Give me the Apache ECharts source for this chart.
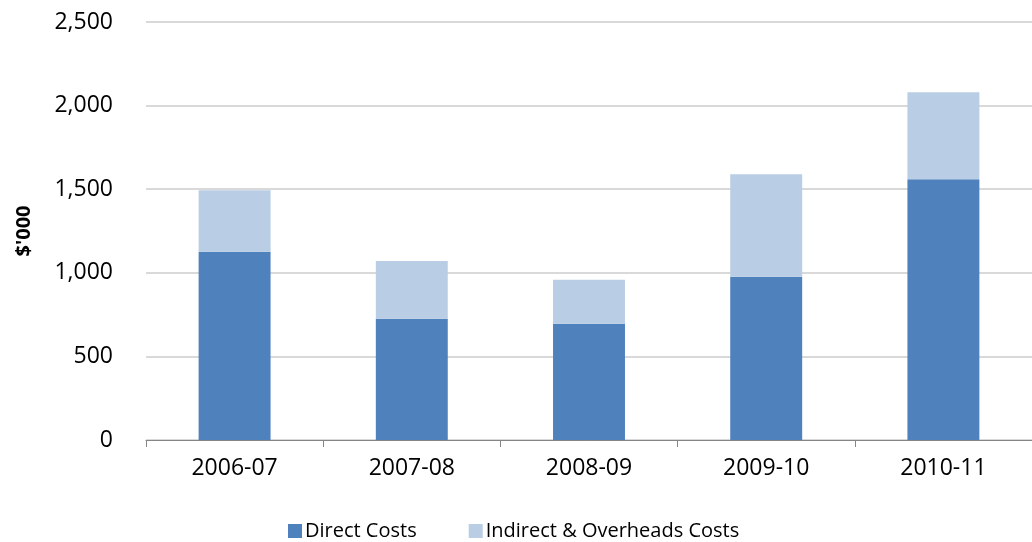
<!DOCTYPE html>
<html><head><meta charset="utf-8">
<script src="https://cdn.jsdelivr.net/npm/echarts@6/dist/echarts.min.js"></script>
<style>html,body{margin:0;padding:0;background:#fff}#c{width:1032px;height:542px}</style>
</head><body><div id="c"></div>
<script>
const categories = ['2006-07','2007-08','2008-09','2009-10','2010-11'];
const directCosts = [1126, 725, 696, 976, 1559];
const indirectCosts = [367, 345, 262, 613, 521];
const yTicks = [0, 500, 1000, 1500, 2000, 2500];

const font = 'Open Sans';
const chart = echarts.init(document.getElementById('c'), null, {renderer:'canvas'});
chart.setOption({
  animation:false,
  grid:{left:146,right:0,top:22,bottom:102,containLabel:false},
  legend:{
    top:516,left:283,itemWidth:14,itemHeight:14,itemGap:52,
    icon:'rect',
    textStyle:{fontFamily:font,fontSize:20,color:'#000',padding:[0,0,0,-2],lineHeight:20},
    data:['Direct Costs','Indirect & Overheads Costs']
  },
  xAxis:{
    type:'category',data:categories,
    axisLine:{lineStyle:{color:'#868686',width:1}},
    axisTick:{show:true,length:7,lineStyle:{color:'#868686'}},
    axisLabel:{fontFamily:font,fontSize:23,color:'#000',margin:17}
  },
  yAxis:{
    type:'value',min:yTicks[0],max:yTicks[yTicks.length-1],interval:500,
    name:"$'000",nameLocation:'middle',nameGap:112,nameRotate:90,
    nameTextStyle:{fontFamily:font,fontSize:20,fontWeight:'bold',color:'#000'},
    axisLine:{show:false},axisTick:{show:false},
    axisLabel:{fontFamily:font,fontSize:23,color:'#000',margin:33,
      formatter:v=>v.toLocaleString('en-US')},
    splitLine:{lineStyle:{color:'#d9d9d9',width:2}}
  },
  series:[
    {name:'Direct Costs',type:'bar',stack:'t',data:directCosts,barWidth:'40.6%',
     itemStyle:{color:'#4F81BD'}},
    {name:'Indirect & Overheads Costs',type:'bar',stack:'t',data:indirectCosts,barWidth:'40.6%',
     itemStyle:{color:'#B9CDE5'}}
  ]
});
</script></body></html>
